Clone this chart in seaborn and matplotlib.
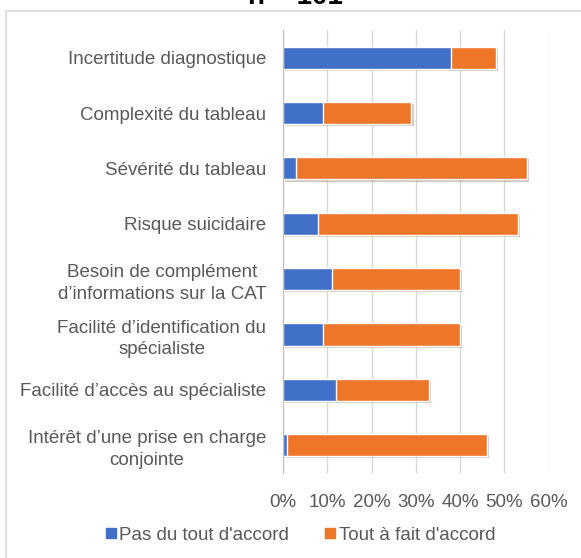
import pandas as pd
import matplotlib.pyplot as plt
import matplotlib.patheffects as pe
from matplotlib.lines import Line2D
from matplotlib.patches import Rectangle
import seaborn as sns

categories = [
    "Incertitude diagnostique",
    "Complexité du tableau",
    "Sévérité du tableau",
    "Risque suicidaire",
    "Besoin de complément\nd’informations sur la CAT",
    "Facilité d’identification du\nspécialiste",
    "Facilité d’accès au spécialiste",
    "Intérêt d’une prise en charge\nconjointe",
]
pas_du_tout = [38, 9, 3, 8, 11, 9, 12, 1]
tout_a_fait = [10, 20, 52, 45, 29, 31, 21, 45]
x_ticks = [0, 10, 20, 30, 40, 50, 60]

blue = "#4170C9"
orange = "#EE7628"
text_col = "#595959"

data = pd.DataFrame({"cat": categories, "pas": pas_du_tout, "tout": tout_a_fait})
data["total"] = data["pas"] + data["tout"]

sns.set_style("white")
plt.rcParams["font.family"] = ["Liberation Sans", "DejaVu Sans"]

fig = plt.figure(figsize=(5.81, 5.58), dpi=100)
ax = fig.add_axes([0.487, 0.1523, 0.4575, 0.794])

shadow = [pe.SimplePatchShadow(offset=(1.5, -1.5), alpha=0.25), pe.Normal()]
sns.barplot(data=data, x="total", y="cat", color=orange, orient="h",
            width=0.4, saturation=1, ax=ax)
sns.barplot(data=data, x="pas", y="cat", color=blue, orient="h",
            width=0.4, saturation=1, ax=ax)
n = len(categories)
for i, p in enumerate(ax.patches):
    if i < n:
        p.set_path_effects(shadow)

ax.set_xlim(0, 60)
ax.set_ylim(n - 0.5, -0.5)
ax.set_xticks(x_ticks)
ax.set_xticklabels([f"{v}%" for v in x_ticks])
ax.set_xlabel("")
ax.set_ylabel("")
ax.grid(axis="x", color="#d9d9d9", linewidth=1)
ax.set_axisbelow(True)
for s in ["top", "right", "bottom"]:
    ax.spines[s].set_visible(False)
ax.spines["left"].set_color("#bfbfbf")
ax.tick_params(axis="x", length=0, pad=15, labelsize=13.5, labelcolor=text_col)
ax.tick_params(axis="y", length=0, pad=12, labelsize=13.5, labelcolor=text_col)
for t in ax.get_yticklabels():
    t.set_multialignment("center")
    t.set_linespacing(1.35)

handles = [
    Line2D([], [], marker="s", linestyle="", color=blue, markersize=7),
    Line2D([], [], marker="s", linestyle="", color=orange, markersize=7),
]
fig.legend(handles, ["Pas du tout d'accord", "Tout à fait d'accord"],
           loc="center", bbox_to_anchor=(0.515, 0.041), ncol=2, frameon=False,
           fontsize=13.5, labelcolor=text_col, handletextpad=0.05,
           handlelength=0.8, columnspacing=1.8)

# outer chart frame (cut at right/bottom like the source)
fig.patches.append(Rectangle((0.0103, -0.05), 1.2, 0.98 + 0.05,
                             transform=fig.transFigure, fill=False,
                             edgecolor="#d9d9d9", linewidth=1.2))

# title mostly cut off at the top of the image
fig.text(0.508, 1 - 4 / 558, "n = 101", ha="center", va="baseline",
         fontsize=20, fontweight="bold", color="#000000")

fig.savefig("out.png", dpi=100)
